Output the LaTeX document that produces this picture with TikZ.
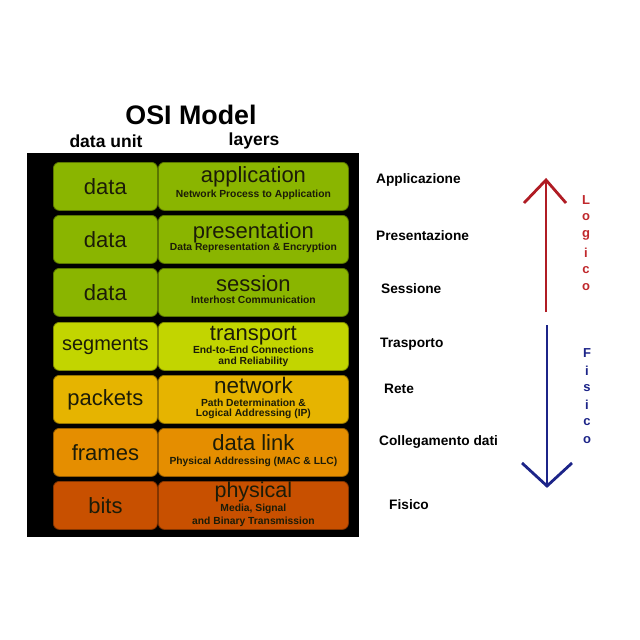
\documentclass[tikz,border=0pt]{standalone}
\usepackage{fontspec}
\setmainfont{Liberation Sans}
\usetikzlibrary{calc}
\definecolor{cgreen}{HTML}{8AB500}
\definecolor{ctrans}{HTML}{C2D500}
\definecolor{cnet}{HTML}{E6B400}
\definecolor{clink}{HTML}{E58E00}
\definecolor{cphys}{HTML}{C85000}
\definecolor{txtdark}{HTML}{1C1C08}
\definecolor{arrred}{HTML}{B01C24}
\definecolor{lblred}{HTML}{C0282C}
\definecolor{arrblue}{HTML}{1C2488}
\tikzset{
  box/.style={rounded corners=6pt, draw=black!35!#1, line width=0.8pt, fill=#1, inner sep=0pt, minimum height=48pt, anchor=north west},
  unitbox/.style={box=#1, minimum width=104pt},
  layerbox/.style={box=#1, minimum width=190pt},
  unittext/.style={font=\fontsize{22}{22}\selectfont, text=txtdark, inner sep=0pt},
  nametext/.style={font=\fontsize{22}{22}\selectfont, text=txtdark, inner sep=0pt, anchor=base},
  subtext/.style={font=\bfseries\fontsize{10.3}{11}\selectfont, text=txtdark, inner sep=0pt, anchor=base},
  hdr/.style={font=\bfseries\fontsize{17.5}{17.5}\selectfont, inner sep=0pt},
  itlbl/.style={font=\bfseries\fontsize{13.7}{13.7}\selectfont, inner sep=0pt, anchor=west},
  vlet/.style={font=\bfseries\fontsize{13}{13}\selectfont, inner sep=0pt},
  arr/.style={line width=2.8pt},
}
\begin{document}
\begin{tikzpicture}[x=1pt,y=-1pt]
\useasboundingbox (0,0) rectangle (640,640);
\fill[white] (0,0) rectangle (640,640);
% titles
\node[font=\bfseries\fontsize{26.8}{26.8}\selectfont, inner sep=0pt] (title) at (191,115) {OSI Model};
\node[hdr] (hunit) at (106,141) {data unit};
\node[hdr] (hlayer) at (254,141) {layers};
% black panel
\fill[black] (27,153) rectangle (359,537);
% rows
\node[unitbox=cgreen] (u1) at (53,162) {};
\node[layerbox=cgreen] (l1) at (158,162) {};
\node[unitbox=cgreen] (u2) at (53,215) {};
\node[layerbox=cgreen] (l2) at (158,215) {};
\node[unitbox=cgreen] (u3) at (53,268) {};
\node[layerbox=cgreen] (l3) at (158,268) {};
\node[unitbox=ctrans] (u4) at (53,322) {};
\node[layerbox=ctrans] (l4) at (158,322) {};
\node[unitbox=cnet] (u5) at (53,375) {};
\node[layerbox=cnet] (l5) at (158,375) {};
\node[unitbox=clink] (u6) at (53,428) {};
\node[layerbox=clink] (l6) at (158,428) {};
\node[unitbox=cphys] (u7) at (53,481) {};
\node[layerbox=cphys] (l7) at (158,481) {};
% unit texts
\node[unittext] at (u1.center) {data};
\node[unittext] at (u2.center) {data};
\node[unittext] at (u3.center) {data};
\node[unittext, font=\fontsize{20}{20}\selectfont] at (u4.center) {segments};
\node[unittext] at (u5.center) {packets};
\node[unittext] at (u6.center) {frames};
\node[unittext] at (u7.center) {bits};
% layer texts
\node[nametext] at ($(l1.north)+(0,20.5)$) {application};
\node[subtext] at ($(l1.north)+(0,35)$) {Network Process to Application};
\node[nametext] at ($(l2.north)+(0,23)$) {presentation};
\node[subtext] at ($(l2.north)+(0,35.5)$) {Data Representation \& Encryption};
\node[nametext] at ($(l3.north)+(0,23)$) {session};
\node[subtext] at ($(l3.north)+(0,35)$) {Interhost Communication};
\node[nametext] at ($(l4.north)+(0,18)$) {transport};
\node[subtext] at ($(l4.north)+(0,31)$) {End-to-End Connections};
\node[subtext] at ($(l4.north)+(0,42)$) {and Reliability};
\node[nametext, font=\fontsize{22.5}{22.5}\selectfont] at ($(l5.north)+(0,18.5)$) {network};
\node[subtext] at ($(l5.north)+(0,31)$) {Path Determination \&};
\node[subtext] at ($(l5.north)+(0,41.5)$) {Logical Addressing (IP)};
\node[nametext] at ($(l6.north)+(0,22)$) {data link};
\node[subtext] at ($(l6.north)+(0,36)$) {Physical Addressing (MAC \& LLC)};
\node[nametext, font=\fontsize{21.5}{21.5}\selectfont] at ($(l7.north)+(0,16)$) {physical};
\node[subtext] at ($(l7.north)+(0,30)$) {Media, Signal};
\node[subtext] at ($(l7.north)+(0,43)$) {and Binary Transmission};
% Italian labels
\node[itlbl] (it1) at (376,180) {Applicazione};
\node[itlbl] (it2) at (376,236) {Presentazione};
\node[itlbl] (it3) at (381,289) {Sessione};
\node[itlbl] (it4) at (380,344) {Trasporto};
\node[itlbl] (it5) at (384,389) {Rete};
\node[itlbl] (it6) at (379,442) {Collegamento dati};
\node[itlbl] (it7) at (389,505) {Fisico};
% red arrow
\coordinate (rb) at (546,312);
\coordinate (rt) at (546,180);
\coordinate (rl) at (524,203);
\coordinate (rr) at (566,203);
\draw[arr, arrred] (rb) -- (rt);
\draw[arr, arrred, line join=miter] (rl) -- (rt) -- (rr);
% blue arrow
\coordinate (bt) at (547,325);
\coordinate (bb) at (547,486);
\coordinate (bl) at (522,463);
\coordinate (br) at (572,463);
\draw[arr, arrblue] (bt) -- (bb);
\draw[arr, arrblue, line join=miter] (bl) -- (bb) -- (br);
% vertical words
\foreach \c [count=\i] in {L,o,g,i,c,o}
  \node[vlet, text=lblred] (lg\i) at (586,{182.5+17.5*\i}) {\c};
\foreach \c [count=\i] in {F,i,s,i,c,o}
  \node[vlet, text=arrblue] (fs\i) at (587,{335.5+17.4*\i}) {\c};
\end{tikzpicture}
\end{document}
